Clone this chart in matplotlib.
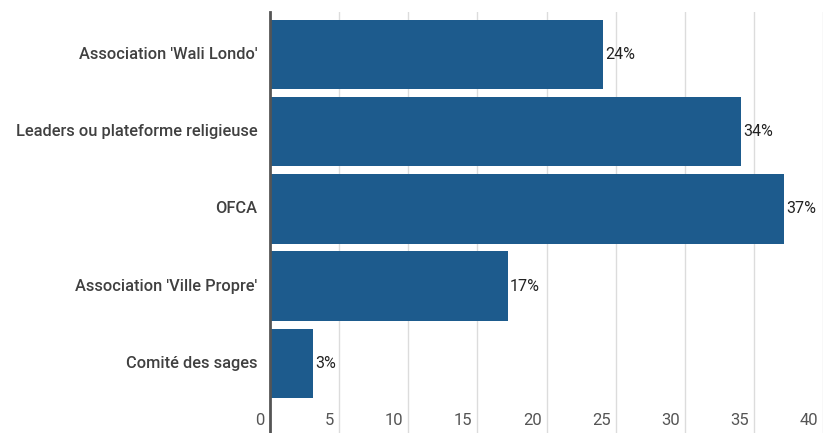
import matplotlib.pyplot as plt
import matplotlib.transforms as mtransforms

plt.rcParams["font.family"] = ["Roboto", "DejaVu Sans"]

# data
categories = [
    "Association 'Wali Londo'",
    "Leaders ou plateforme religieuse",
    "OFCA",
    "Association 'Ville Propre'",
    "Comité des sages",
]
values = [24.1, 34.1, 37.2, 17.2, 3.1]
labels = ["24%", "34%", "37%", "17%", "3%"]
xticks = [0, 5, 10, 15, 20, 25, 30, 35, 40]

bar_color = "#1d5b8d"
grid_color = "#dcdcdc"
spine_color = "#555555"

fig = plt.figure(figsize=(8.26, 4.33), dpi=100)
ax = fig.add_axes([270 / 826, 0, 553 / 826, 1 - 12 / 433])

ypos = list(range(len(categories)))
ax.barh(ypos, values, height=0.9, color=bar_color, zorder=3)

ax.set_xlim(0, 40)
ax.set_ylim(4.9, -0.55)

# vertical gridlines
for t in xticks[1:]:
    ax.axvline(t, color=grid_color, linewidth=1, zorder=1)

for s in ["top", "right", "bottom"]:
    ax.spines[s].set_visible(False)
ax.spines["left"].set_color(spine_color)
ax.spines["left"].set_linewidth(2)
ax.spines["left"].set_zorder(4)

ax.set_xticks([])
ax.set_yticks([])

# category labels
for y, c in zip(ypos, categories):
    ax.text(-0.9, y, c, ha="right", va="center", fontsize=11.8, color="#404040",
            fontweight="medium")

# value labels
for y, v, lab in zip(ypos, values, labels):
    ax.text(v + 0.15, y, lab, ha="left", va="center", fontsize=11.5, color="#222222", zorder=5)

# x tick labels sitting just left of their gridline
offset = mtransforms.ScaledTranslation(-5 / 100, 0, fig.dpi_scale_trans)
for t in xticks:
    ax.text(t, 4.74, str(t), ha="right", va="center", fontsize=12, color="#555555",
            transform=ax.transData + offset)

fig.savefig("out.png", dpi=100, facecolor="white")
